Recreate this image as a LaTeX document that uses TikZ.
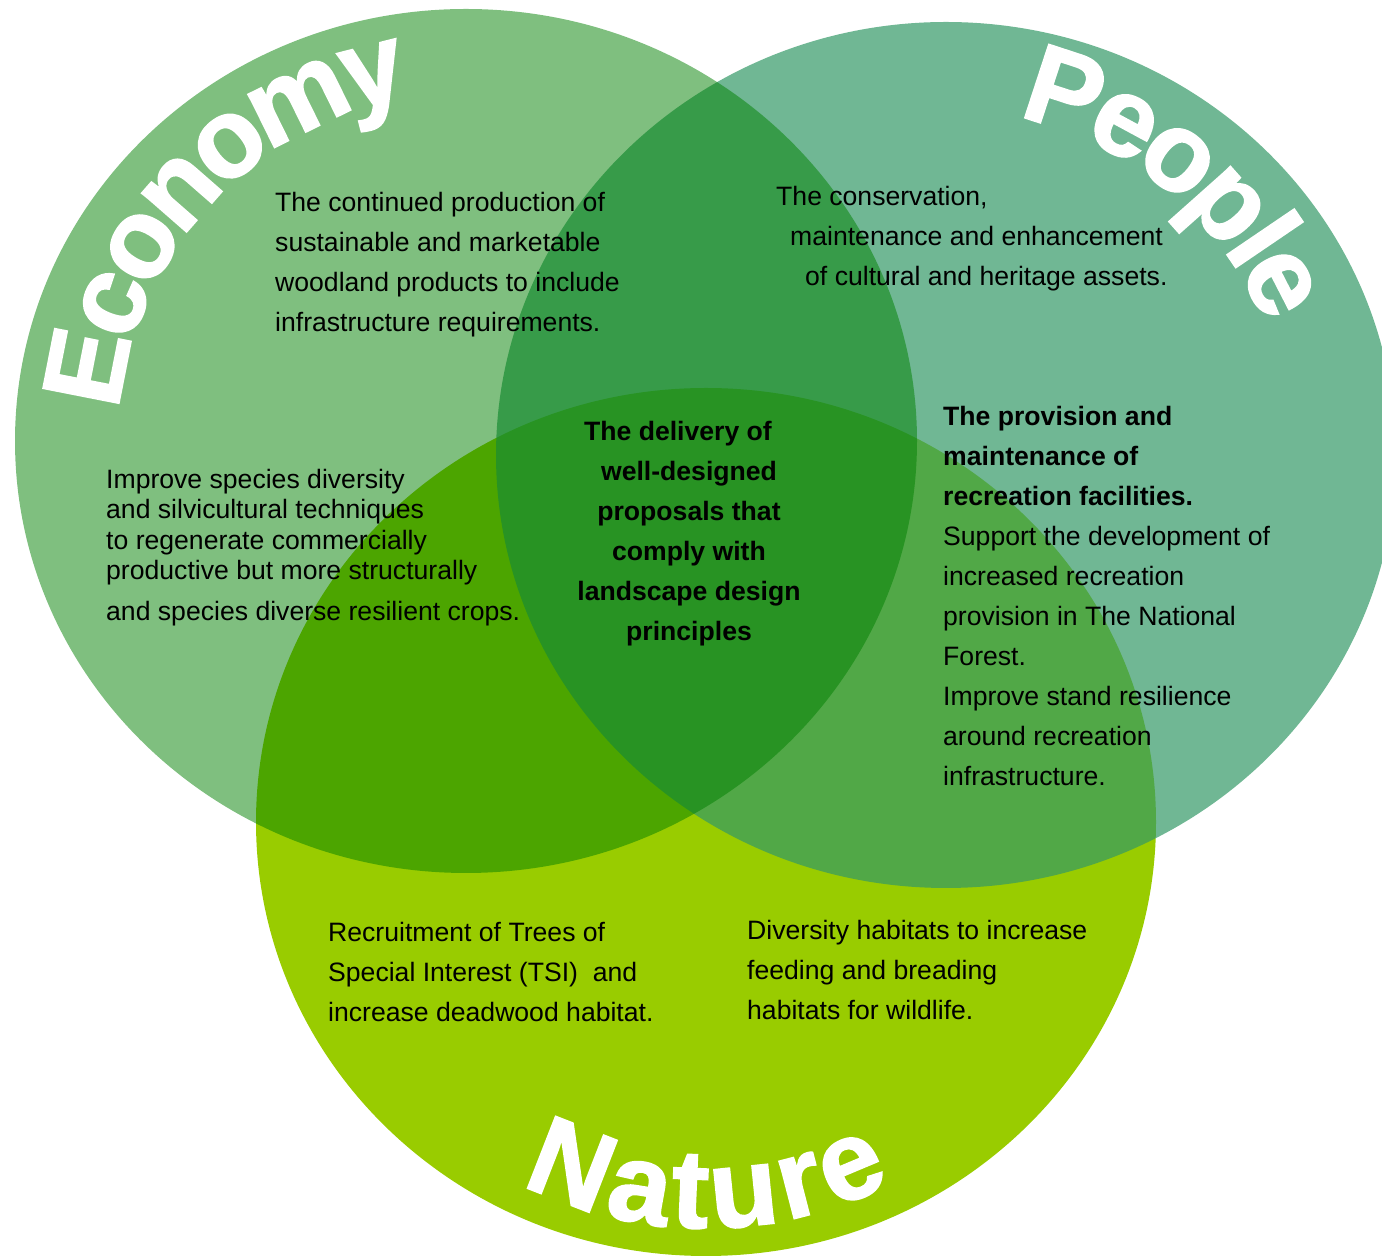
\documentclass[tikz,border=0pt]{standalone}
\usepackage{fontspec}
\setmainfont{Liberation Sans}
\newfontfamily\titlefont[FakeBold=1.6]{Liberation Sans Bold}
\usepackage{xcolor}
\usetikzlibrary{decorations.text}

\definecolor{economy}{HTML}{008000}
\definecolor{people}{HTML}{339966}
\definecolor{nature}{HTML}{99CC00}

\begin{document}
\begin{tikzpicture}[x=1pt,y=1pt]

\tikzset{body/.style = {font=\fontsize{26.6}{40}\selectfont, align=left, anchor=north west, inner sep=0pt}}
\tikzset{tight/.style = {body, font=\fontsize{26.6}{30.5}\selectfont}}
\tikzset{core/.style = {body, align=center, anchor=north, font=\fontsize{26.6}{40}\selectfont\bfseries}}
\tikzset{bigword/.style = {decorate, decoration={text along path, text align=center, raise=-38pt, text color=white, text={|\titlefont\fontsize{112}{112}\selectfont|#1}}}}

\useasboundingbox (0,0) rectangle (1382,1258);
\clip (0,0) rectangle (1382,1258);

\coordinate (E) at (466,817);
\coordinate (P) at (946,803);
\coordinate (N) at (706,436);

%circles
\fill[nature] (N) ellipse [x radius=450, y radius=434];
\fill[people, fill opacity=0.7] (P) ellipse [x radius=450, y radius=433];
\fill[economy, fill opacity=0.5] (E) ellipse [x radius=451, y radius=432];

%titles
\path[bigword=Economy] (E) ++(187:386) arc [start angle=187, end angle=87, radius=386];
\path[bigword=People] (P) ++(90:383) arc [start angle=90, end angle=10, radius=383];
\path[bigword=Nature] (N) ++(230:368) arc [start angle=230, end angle=310, radius=368];

%texts
\node[body] (econtop) at (275,1075) {\strut The continued production of\\sustainable and marketable\\woodland products to include\\infrastructure requirements.};
\node[tight] (econleft) at (106,791.35) {\strut Improve species diversity\\and silvicultural techniques\\to regenerate commercially\\productive but more structurally\\[10.5pt]and species diverse resilient crops.};
\node[core] (centre) at (689,846) {\strut The delivery of\hspace*{22pt}\\well-designed\\proposals that\\comply with\\landscape design\\principles};
\node[body] (peopletop) at (776,1081) {\strut The conservation,\\\hspace*{14pt}maintenance and enhancement\\\hspace*{29pt}of cultural and heritage assets.};
\node[body] (peopleright) at (943,861) {\strut\textbf{The provision and}\\\textbf{maintenance of}\\\textbf{recreation facilities.}\\Support the development of\\increased recreation\\provision in The National\\Forest.\\Improve stand resilience\\around recreation\\infrastructure.};
\node[body] (natureleft) at (328,345) {\strut Recruitment of Trees of\\Special Interest (TSI)\ \ and\\increase deadwood habitat.};
\node[body] (natureright) at (747,347) {\strut Diversity habitats to increase\\feeding and breading\\habitats for wildlife.};
\end{tikzpicture}
\end{document}
